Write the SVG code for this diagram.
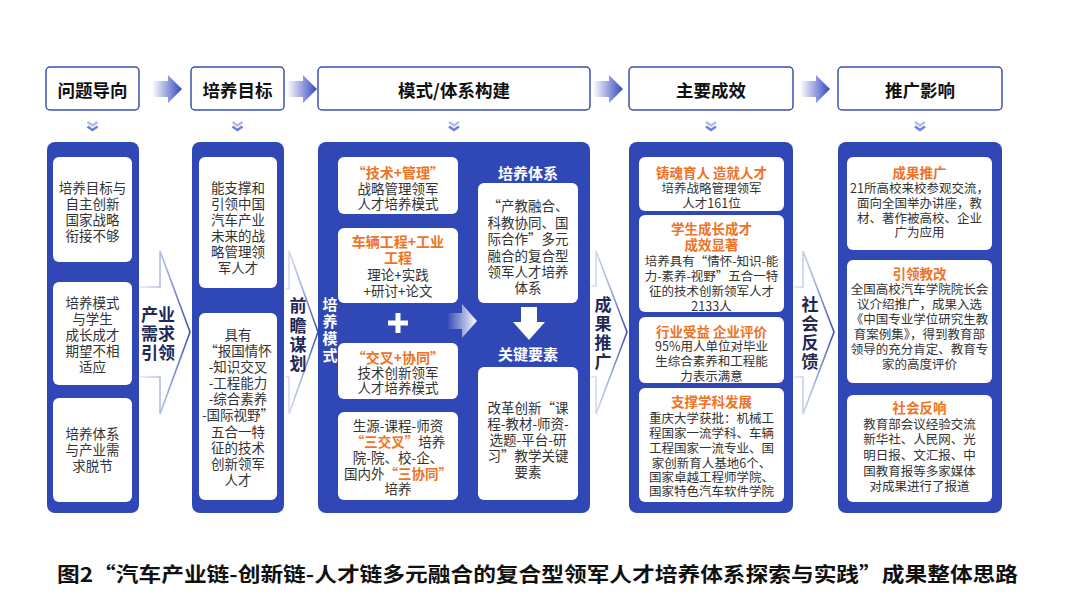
<svg xmlns="http://www.w3.org/2000/svg" width="1080" height="608" viewBox="0 0 1080 608">
<defs>
<style>
text{font-family:"Noto Sans CJK SC","Noto Sans",sans-serif;dominant-baseline:central;}
.hd{fill:#fff;stroke:#3a50b4;stroke-width:1.5;}
.ht{font-size:17.5px;font-weight:700;fill:#111;text-anchor:middle;}
.panel{fill:#3048b6;}
.wb{fill:#fff;}
.t{font-size:13.5px;fill:#333;text-anchor:middle;}
.s{font-size:12.5px;fill:#333;text-anchor:middle;}
.o{fill:#ee7326;font-weight:700;}
.ob{font-size:14px;fill:#ee7326;font-weight:700;text-anchor:middle;}
.ob2{font-size:13.5px;fill:#ee7326;font-weight:700;text-anchor:middle;}
.at{font-size:17px;font-weight:700;fill:#1e2a55;text-anchor:middle;}
.wt{font-size:15px;font-weight:700;fill:#fff;text-anchor:middle;}
.big{fill:none;stroke-width:1.6;stroke-linejoin:miter;}
</style>
<linearGradient id="ha" x1="0" y1="0" x2="1" y2="0">
<stop offset="0" stop-color="#ffffff"/>
<stop offset="1" stop-color="#3447c0"/>
</linearGradient>
<linearGradient id="wa" x1="0" y1="0" x2="1" y2="0">
<stop offset="0" stop-color="#ffffff" stop-opacity="0"/>
<stop offset="1" stop-color="#ffffff"/>
</linearGradient>
<linearGradient id="ba" x1="0" y1="0" x2="1" y2="0">
<stop offset="0" stop-color="#e2e6f5"/>
<stop offset="0.5" stop-color="#a9b3e0"/>
<stop offset="1" stop-color="#3c4fb5"/>
</linearGradient>
<g id="chev">
<path d="M-5,0 L0,3.5 L5,0" fill="none" stroke="#b3bce6" stroke-width="2.6"/>
<path d="M-5,4.5 L0,8 L5,4.5" fill="none" stroke="#6f80d0" stroke-width="2.6"/>
</g>
<path id="harrow" d="M0,-8 L16,-8 L16,-14 L30,0 L16,14 L16,8 L0,8 Z" fill="url(#ha)"/>
</defs>
<rect width="1080" height="608" fill="#fff"/>

<g id="connectors">
<use href="#harrow" x="152" y="89"/>
<use href="#harrow" x="287" y="89"/>
<use href="#harrow" x="593" y="89"/>
<use href="#harrow" x="800" y="89"/>
<use href="#chev" x="92.5" y="122"/>
<use href="#chev" x="237.5" y="122"/>
<use href="#chev" x="454" y="122"/>
<use href="#chev" x="711" y="122"/>
<use href="#chev" x="920" y="122"/>
<path class="big" stroke="url(#ba)" d="M140,287 L160,287 L160,251 L190,332 L160,414 L160,377 L140,377"/>
<path class="big" stroke="url(#ba)" d="M285,289 L289,289 L289,251 L318,332 L289,414 L289,377 L285,377"/>
<path class="big" stroke="url(#ba)" d="M591,286 L596,286 L596,251 L627,332 L596,414 L596,377 L591,377"/>
<path class="big" stroke="url(#ba)" d="M794,287 L803,287 L803,251 L834,332 L803,414 L803,377 L794,377"/>
<g id="arrow-label-1"><text class="at" x="158" y="313">产业</text><text class="at" x="158" y="332">需求</text><text class="at" x="158" y="351">引领</text></g>
<g id="arrow-label-2"><text class="at" x="298" y="304">前</text><text class="at" x="298" y="324">瞻</text><text class="at" x="298" y="343">谋</text><text class="at" x="298" y="362">划</text></g>
<g id="arrow-label-3"><text class="at" x="603" y="303">成</text><text class="at" x="603" y="322">果</text><text class="at" x="603" y="341">推</text><text class="at" x="603" y="360">广</text></g>
<g id="arrow-label-4"><text class="at" x="810" y="303">社</text><text class="at" x="810" y="322">会</text><text class="at" x="810" y="341">反</text><text class="at" x="810" y="360">馈</text></g>
</g>

<g id="header-1"><rect class="hd" x="46" y="67" width="93" height="43" rx="4"/><text class="ht" x="92.5" y="89">问题导向</text></g>
<g id="header-2"><rect class="hd" x="191" y="67" width="93" height="43" rx="4"/><text class="ht" x="237.5" y="89">培养目标</text></g>
<g id="header-3"><rect class="hd" x="318" y="67" width="272" height="43" rx="4"/><text class="ht" x="454" y="89">模式/体系构建</text></g>
<g id="header-4"><rect class="hd" x="629" y="67" width="164" height="43" rx="4"/><text class="ht" x="711" y="89">主要成效</text></g>
<g id="header-5"><rect class="hd" x="838" y="67" width="164" height="43" rx="4"/><text class="ht" x="920" y="89">推广影响</text></g>

<g id="panel-1">
<rect class="panel" x="47" y="142" width="92" height="371" rx="8"/>
<rect class="wb" x="53" y="157" width="79" height="105" rx="6"/>
<text class="t" x="92.5" y="187">培养目标与</text><text class="t" x="92.5" y="203">自主创新</text><text class="t" x="92.5" y="219">国家战略</text><text class="t" x="92.5" y="235">衔接不够</text>
<rect class="wb" x="53" y="282" width="79" height="103" rx="6"/>
<text class="t" x="92.5" y="302">培养模式</text><text class="t" x="92.5" y="318">与学生</text><text class="t" x="92.5" y="334">成长成才</text><text class="t" x="92.5" y="350">期望不相</text><text class="t" x="92.5" y="366">适应</text>
<rect class="wb" x="53" y="398" width="79" height="104" rx="6"/>
<text class="t" x="92.5" y="433">培养体系</text><text class="t" x="92.5" y="449">与产业需</text><text class="t" x="92.5" y="465">求脱节</text>
</g>

<g id="panel-2">
<rect class="panel" x="192" y="142" width="92" height="371" rx="8"/>
<rect class="wb" x="199" y="157" width="78" height="131" rx="6"/>
<text class="t" x="238" y="187">能支撑和</text><text class="t" x="238" y="203">引领中国</text><text class="t" x="238" y="219">汽车产业</text><text class="t" x="238" y="235">未来的战</text><text class="t" x="238" y="251">略管理领</text><text class="t" x="238" y="267">军人才</text>
<rect class="wb" x="199" y="313" width="78" height="187" rx="6"/>
<text class="t" x="238" y="334">具有</text><text class="t" x="238" y="350">“报国情怀</text><text class="t" x="238" y="366">-知识交叉</text><text class="t" x="238" y="382">-工程能力</text><text class="t" x="238" y="398">-综合素养</text><text class="t" x="238" y="414">-国际视野”</text><text class="t" x="238" y="431">五合一特</text><text class="t" x="238" y="447">征的技术</text><text class="t" x="238" y="463">创新领军</text><text class="t" x="238" y="479">人才</text>
</g>

<g id="panel-3">
<rect class="panel" x="318" y="142" width="272" height="371" rx="8"/>
<text class="wt" x="330" y="303">培</text><text class="wt" x="330" y="320">养</text><text class="wt" x="330" y="337">模</text><text class="wt" x="330" y="354">式</text>
<g id="mode-1"><rect class="wb" x="338" y="157" width="120" height="57" rx="6"/>
<text class="ob" x="398" y="172">“技术+管理”</text><text class="t" x="398" y="188">战略管理领军</text><text class="t" x="398" y="203">人才培养模式</text></g>
<g id="mode-2"><rect class="wb" x="338" y="228" width="120" height="75" rx="6"/>
<text class="ob" x="398" y="241">车辆工程+工业</text><text class="ob" x="398" y="257">工程</text><text class="t" x="398" y="274">理论+实践</text><text class="t" x="398" y="290">+研讨+论文</text></g>
<path d="M395.5,313 h5 v7.5 h7.5 v5 h-7.5 v7.5 h-5 v-7.5 h-7.5 v-5 h7.5 z" fill="#fff"/>
<g id="mode-3"><rect class="wb" x="338" y="343" width="120" height="56" rx="6"/>
<text class="ob" x="398" y="357">“交叉+协同”</text><text class="t" x="398" y="372">技术创新领军</text><text class="t" x="398" y="387">人才培养模式</text></g>
<g id="mode-4"><rect class="wb" x="338" y="412" width="120" height="88" rx="6"/>
<text class="t" x="398" y="425">生源-课程-师资</text>
<text class="t" x="398" y="441"><tspan class="o">“三交叉”</tspan>培养</text>
<text class="t" x="398" y="457">院-院、校-企、</text>
<text class="t" x="398" y="473">国内外<tspan class="o">“三协同”</tspan></text>
<text class="t" x="398" y="488">培养</text></g>
<path d="M447,313 L462,313 L462,304 L477,321 L462,338 L462,329 L447,329 Z" fill="url(#wa)"/>
<text class="wt" x="528" y="172">培养体系</text>
<g id="system"><rect class="wb" x="478" y="183" width="100" height="120" rx="6"/>
<text class="t" x="528" y="205">“产教融合、</text><text class="t" x="528" y="222">科教协同、国</text><text class="t" x="528" y="238">际合作”多元</text><text class="t" x="528" y="255">融合的复合型</text><text class="t" x="528" y="271">领军人才培养</text><text class="t" x="528" y="287">体系</text></g>
<path d="M521,307 L537,307 L537,322 L545,322 L529,340 L513,322 L521,322 Z" fill="#fff"/>
<text class="wt" x="528" y="353">关键要素</text>
<g id="elements"><rect class="wb" x="478" y="367" width="100" height="133" rx="6"/>
<text class="t" x="528" y="407">改革创新“课</text><text class="t" x="528" y="423">程-教材-师资-</text><text class="t" x="528" y="439">选题-平台-研</text><text class="t" x="528" y="455">习”教学关键</text><text class="t" x="528" y="471">要素</text></g>
</g>

<g id="panel-4">
<rect class="panel" x="629" y="142" width="164" height="371" rx="8"/>
<rect class="wb" x="639" y="157" width="145" height="54" rx="6"/>
<text class="ob2" x="711.5" y="172">铸魂育人 造就人才</text><text class="s" x="711.5" y="187">培养战略管理领军</text><text class="s" x="711.5" y="202">人才161位</text>
<rect class="wb" x="639" y="215" width="145" height="97" rx="6"/>
<text class="ob2" x="711.5" y="228">学生成长成才</text><text class="ob2" x="711.5" y="244">成效显著</text><text class="s" x="711.5" y="260">培养具有“情怀-知识-能</text><text class="s" x="711.5" y="275">力-素养-视野”五合一特</text><text class="s" x="711.5" y="290">征的技术创新领军人才</text><text class="s" x="711.5" y="305">2133人</text>
<rect class="wb" x="639" y="317" width="145" height="66" rx="6"/>
<text class="ob2" x="711.5" y="331">行业受益 企业评价</text><text class="s" x="711.5" y="345">95%用人单位对毕业</text><text class="s" x="711.5" y="360">生综合素养和工程能</text><text class="s" x="711.5" y="375">力表示满意</text>
<rect class="wb" x="639" y="388" width="145" height="114" rx="6"/>
<text class="ob2" x="711.5" y="401">支撑学科发展</text><text class="s" x="711.5" y="417">重庆大学获批：机械工</text><text class="s" x="711.5" y="432">程国家一流学科、车辆</text><text class="s" x="711.5" y="447">工程国家一流专业、国</text><text class="s" x="711.5" y="462">家创新育人基地6个、</text><text class="s" x="711.5" y="476">国家卓越工程师学院、</text><text class="s" x="711.5" y="490">国家特色汽车软件学院</text>
</g>

<g id="panel-5">
<rect class="panel" x="838" y="142" width="164" height="371" rx="8"/>
<rect class="wb" x="847" y="157" width="145" height="93" rx="6"/>
<text class="ob2" x="919.5" y="172">成果推广</text><text class="s" x="919.5" y="187">21所高校来校参观交流，</text><text class="s" x="919.5" y="202">面向全国举办讲座，教</text><text class="s" x="919.5" y="217">材、著作被高校、企业</text><text class="s" x="919.5" y="231">广为应用</text>
<rect class="wb" x="847" y="260" width="145" height="123" rx="6"/>
<text class="ob2" x="919.5" y="273">引领教改</text><text class="s" x="919.5" y="288">全国高校汽车学院院长会</text><text class="s" x="919.5" y="303">议介绍推广，成果入选</text><text class="s" x="919.5" y="318">《中国专业学位研究生教</text><text class="s" x="919.5" y="333">育案例集》，得到教育部</text><text class="s" x="919.5" y="348">领导的充分肯定、教育专</text><text class="s" x="919.5" y="363">家的高度评价</text>
<rect class="wb" x="847" y="395" width="145" height="107" rx="6"/>
<text class="ob2" x="919.5" y="407">社会反响</text><text class="s" x="919.5" y="423">教育部会议经验交流</text><text class="s" x="919.5" y="438">新华社、人民网、光</text><text class="s" x="919.5" y="454">明日报、文汇报、中</text><text class="s" x="919.5" y="470">国教育报等多家媒体</text><text class="s" x="919.5" y="485">对成果进行了报道</text>
</g>

<g id="caption">
<text x="57" y="573" font-size="20" font-weight="700" fill="#111" textLength="961" lengthAdjust="spacingAndGlyphs">图2“汽车产业链-创新链-人才链多元融合的复合型领军人才培养体系探索与实践”成果整体思路</text>
</g>
</svg>
